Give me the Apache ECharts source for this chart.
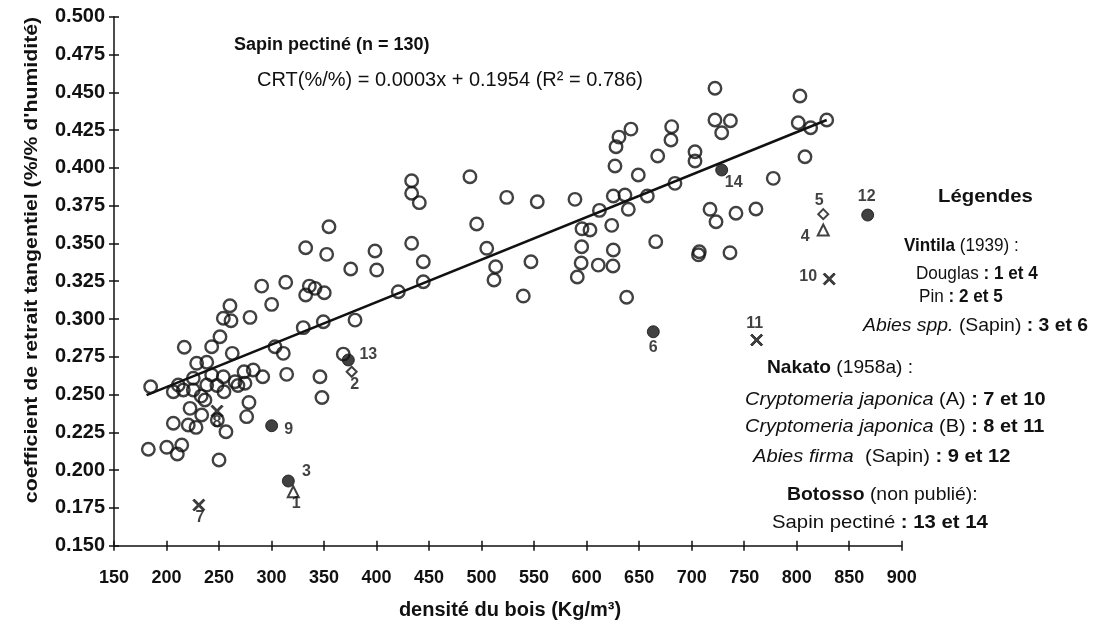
<!DOCTYPE html>
<html><head><meta charset="utf-8">
<script src="https://cdn.jsdelivr.net/npm/echarts@6/dist/echarts.min.js"></script>
<style>html,body{margin:0;padding:0;background:#fff}#c{width:1099px;height:621px}</style>
</head><body><div id="c"></div>
<script>
// ---------- DATA ----------
const sapinPectine = [
[354.7,0.3611],[332.5,0.3472],[352.5,0.3428],[398.5,0.3450],[375.4,0.3331],[400.1,0.3324],
[290.6,0.3218],[313.5,0.3243],[336.0,0.3218],[341.4,0.3203],[350.2,0.3174],[332.5,0.3159],
[300.1,0.3097],[260.4,0.3088],[254.1,0.3005],[261.4,0.2989],[279.5,0.3011],[330.2,0.2943],
[349.3,0.2982],[379.5,0.2993],[250.9,0.2883],[216.9,0.2813],[243.0,0.2817],[303.3,0.2817],
[311.2,0.2773],[262.6,0.2773],[368.3,0.2768],[346.1,0.2618],[314.4,0.2634],[291.6,0.2618],
[273.8,0.2651],[228.7,0.2707],[238.3,0.2714],[225.5,0.2608],[243.0,0.2630],[254.1,0.2618],
[282.6,0.2663],[274.7,0.2575],[265.2,0.2585],[254.7,0.2519],[238.3,0.2563],[225.5,0.2530],
[216.0,0.2530],[206.5,0.2519],[211.2,0.2563],[184.9,0.2552],[348.0,0.2481],[236.6,0.2464],
[222.4,0.2409],[233.5,0.2365],[278.5,0.2448],[276.3,0.2354],[248.4,0.2332],[206.5,0.2310],
[220.7,0.2299],[228.1,0.2283],[256.6,0.2254],[182.7,0.2138],[200.2,0.2151],[214.5,0.2166],
[210.3,0.2107],[250.0,0.2067],
[630.8,0.4204],[628.0,0.4140],[627.0,0.4013],[433.4,0.3915],[433.4,0.3832],[440.7,0.3770],
[488.9,0.3942],[523.9,0.3805],[553.0,0.3776],[588.9,0.3792],[625.4,0.3814],[612.2,0.3719],
[495.3,0.3629],[595.6,0.3597],[603.2,0.3589],[623.9,0.3620],[433.4,0.3501],[444.5,0.3379],
[504.9,0.3468],[513.4,0.3346],[511.8,0.3258],[547.0,0.3379],[595.3,0.3478],[594.8,0.3371],
[591.1,0.3278],[611.1,0.3357],[625.4,0.3457],[625.1,0.3351],[444.5,0.3247],[420.7,0.3181],
[539.7,0.3152],
[722.2,0.4527],[803.1,0.4476],[722.2,0.4317],[736.9,0.4312],[728.6,0.4233],[801.5,0.4299],
[813.3,0.4266],[828.6,0.4317],[642.2,0.4257],[681.0,0.4273],[680.3,0.4185],[667.7,0.4079],
[703.2,0.4107],[703.2,0.4046],[649.2,0.3953],[684.1,0.3898],[636.5,0.3821],[639.7,0.3726],
[657.8,0.3814],[807.9,0.4074],[777.7,0.3931],[717.5,0.3726],[723.2,0.3644],[742.2,0.3700],
[761.2,0.3728],[665.8,0.3512],[707.3,0.3445],[706.5,0.3425],[736.5,0.3439],[638.1,0.3144],
[248,0.2560],[233,0.2490],[268,0.2560]
];
const trendLine = [[181,0.2497],[828.6,0.4317]];

// reference points: [density, CRT, number]
const vintilaDouglas   = [[320.7,0.1857,'1'],[825.3,0.3589,'4']];
const vintilaPin       = [[376.3,0.2651,'2'],[825.3,0.3694,'5']];
const vintilaAbies     = [[316.0,0.1928,'3'],[663.5,0.2916,'6']];
const nakatoCryptoA    = [[230.8,0.1769,'7'],[831.0,0.3265,'10']];
const nakatoCryptoB    = [[248.1,0.2391,'8'],[761.9,0.2861,'11']];
const nakatoAbiesFirma = [[300.1,0.2294,'9'],[867.6,0.3688,'12']];
const botossoSapin     = [[373.1,0.2729,'13'],[728.6,0.3986,'14']];

const xMin = 150, xMax = 900, xStep = 50;
const yMin = 0.150, yMax = 0.500, yStep = 0.025;

// ---------- STYLE ----------
const FONT = 'Liberation Sans';
const INK = '#111';
const labelOffsets = {
  '1':[3,12],'2':[3,13],'3':[18,-9],'4':[-18,7],'5':[-4,-14],'6':[0,16],'7':[1,13],
  '8':[0,12],'9':[17,4],'10':[-21,-2],'11':[-2,-16],'12':[-1,-18],'13':[20,-5],'14':[12,13]
};
const xPath = 'path://M0,1.2L1.2,0L5,3.8L8.8,0L10,1.2L6.2,5L10,8.8L8.8,10L5,6.2L1.2,10L0,8.8L3.8,5Z';

function refSeries(name, pts, symbol, size, filled) {
  return {
    name, type: 'scatter', xAxisIndex: 0, yAxisIndex: 0, z: 5,
    symbol, symbolSize: size,
    itemStyle: filled ? {color: INK, borderColor: INK, borderWidth: 1}
                      : {color: '#fff', borderColor: INK, borderWidth: 2},
    data: pts.map(p => ({
      value: [p[0], p[1]],
      label: {show: true, formatter: p[2], position: 'inside', offset: labelOffsets[p[2]],
              fontFamily: FONT, fontWeight: 'bold', fontSize: 16, color: INK}
    }))
  };
}

const bold = {fontFamily: FONT, fontWeight: 'bold', fontSize: 19, color: INK};
const norm = {fontFamily: FONT, fontWeight: 'normal', fontSize: 19, color: INK};
const ital = {fontFamily: FONT, fontWeight: 'normal', fontStyle: 'italic', fontSize: 19, color: INK};
function txt(x, y, text, sx, size) {
  const s = size || 19;
  return {
    type: 'text', x, y, z: 10, scaleX: sx || 1,
    style: {text, rich: {b: Object.assign({}, bold, {fontSize: s}), n: Object.assign({}, norm, {fontSize: s}),
                         i: Object.assign({}, ital, {fontSize: s})},
            fontFamily: FONT, fontSize: s, fill: INK, align: 'left', verticalAlign: 'middle'}
  };
}

const chart = echarts.init(document.getElementById('c'), null, {renderer: 'canvas'});
const axisLabel = {fontFamily: FONT, fontWeight: 'bold', color: INK};
chart.setOption({
  backgroundColor: '#fff',
  animation: false,
  grid: {left: 114, right: 197.3, top: 16.8, bottom: 75.3, containLabel: false},
  xAxis: [
    {type: 'value', min: xMin, max: xMax, interval: xStep,
     axisLine: {lineStyle: {color: INK, width: 1.5}},
     axisTick: {show: true, length: 5, lineStyle: {color: INK, width: 1.5}},
     axisLabel: Object.assign({margin: 23, fontSize: 18}, axisLabel),
     splitLine: {show: false}},
    {type: 'value', min: xMin, max: xMax, interval: xStep, position: 'bottom',
     axisLine: {show: false}, axisLabel: {show: false}, splitLine: {show: false},
     axisTick: {show: true, inside: true, length: 5, lineStyle: {color: INK, width: 1.5}}}
  ],
  yAxis: [
    {type: 'value', min: yMin, max: yMax, interval: yStep,
     axisLine: {show: true, lineStyle: {color: INK, width: 1.5}},
     axisTick: {show: true, length: 5, lineStyle: {color: INK, width: 1.5}},
     axisLabel: Object.assign({margin: 9, fontSize: 20, formatter: v => v.toFixed(3)}, axisLabel),
     splitLine: {show: false}},
    {type: 'value', min: yMin, max: yMax, interval: yStep, position: 'left',
     axisLine: {show: false}, axisLabel: {show: false}, splitLine: {show: false},
     axisTick: {show: true, inside: true, length: 5, lineStyle: {color: INK, width: 1.5}}}
  ],
  series: [
    {name: 'Sapin pectiné', type: 'scatter', xAxisIndex: 0, yAxisIndex: 0, z: 3,
     symbol: 'circle', symbolSize: 12.5,
     itemStyle: {color: 'rgba(0,0,0,0)', borderColor: INK, borderWidth: 2.4},
     data: sapinPectine},
    {name: 'Régression', type: 'line', xAxisIndex: 0, yAxisIndex: 0, z: 4,
     showSymbol: false, lineStyle: {color: INK, width: 2.5}, data: trendLine},
    refSeries('Vintila Douglas', vintilaDouglas, 'triangle', 11, false),
    refSeries('Vintila Pin', vintilaPin, 'diamond', 10, false),
    refSeries('Vintila Abies spp.', vintilaAbies, 'circle', 12, true),
    refSeries('Nakato Cryptomeria A', nakatoCryptoA, xPath, 12, true),
    refSeries('Nakato Cryptomeria B', nakatoCryptoB, xPath, 12, true),
    refSeries('Nakato Abies firma', nakatoAbiesFirma, 'circle', 12, true),
    refSeries('Botosso Sapin pectiné', botossoSapin, 'circle', 12, true)
  ],
  graphic: [
    txt(234, 45, '{b|Sapin pectiné (n = 130)}', 1, 18),
    txt(257, 80, '{n|CRT(%/%) = 0.0003x + 0.1954 (R² = 0.786)}', 1, 20),
    txt(938, 197, '{b|Légendes}', 1.07),
    txt(904, 246, '{b|Vintila}{n| (1939) :}', 0.9),
    txt(916, 274, '{n|Douglas }{b|: 1 et 4}', 0.9),
    txt(919, 297, '{n|Pin }{b|: 2 et 5}', 0.9),
    txt(863, 326, '{i|Abies spp.}{n| (Sapin) }{b|: 3 et 6}', 1.02),
    txt(767, 368, '{b|Nakato}{n| (1958a) :}', 1.01),
    txt(745, 400, '{i|Cryptomeria japonica}{n| (A) }{b|: 7 et 10}', 1.05),
    txt(745, 427, '{i|Cryptomeria japonica}{n| (B) }{b|: 8 et 11}', 1.05),
    txt(753, 457, '{i|Abies firma}{n|  (Sapin) }{b|: 9 et 12}', 1.06),
    txt(787, 495, '{b|Botosso}{n| (non publié):}', 1.02),
    txt(772, 523, '{n|Sapin pectiné }{b|: 13 et 14}', 1.07),
    {type: 'text', x: 510, y: 610, z: 10,
     style: {text: 'densité du bois (Kg/m³)', fontFamily: FONT, fontWeight: 'bold', fontSize: 20,
             fill: INK, align: 'center', verticalAlign: 'middle'}},
    {type: 'text', x: 32, y: 260, z: 10, rotation: Math.PI / 2, scaleX: 1.12,
     style: {text: "coefficient de retrait tangentiel (%/% d'humidité)", fontFamily: FONT,
             fontWeight: 'bold', fontSize: 19, fill: INK, align: 'center', verticalAlign: 'middle'}}
  ]
});
</script></body></html>
